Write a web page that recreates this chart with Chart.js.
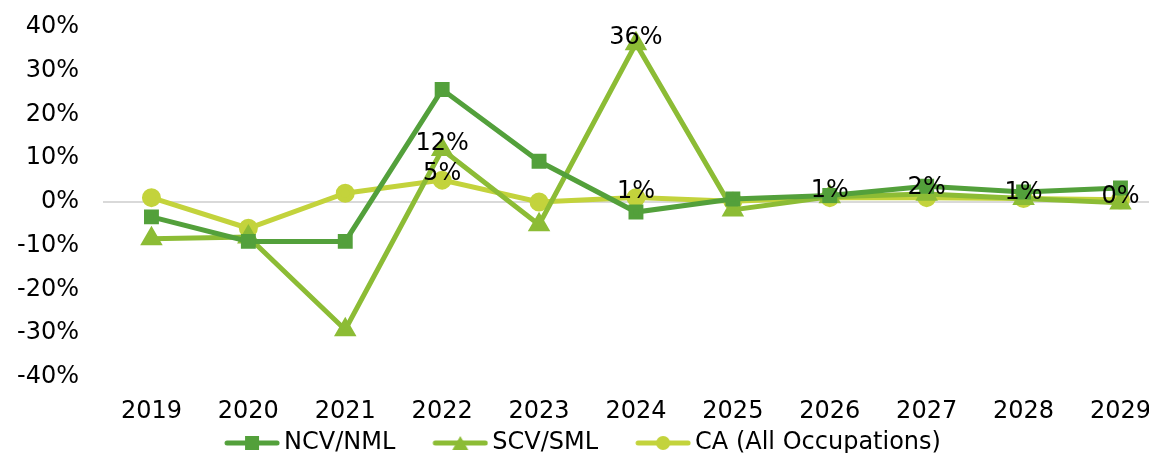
<!DOCTYPE html>
<html>
<head>
<meta charset="utf-8">
<script src="https://cdn.jsdelivr.net/npm/chart.js@4.4.1/dist/chart.umd.min.js"></script>
<style>
  html, body { margin: 0; padding: 0; background: #fff; overflow: hidden; }
  #wrap { width: 1171px; height: 453px; }
</style>
</head>
<body>
<div id="wrap"><canvas id="myChart"></canvas></div>
<script>
// Growth rates by year
const years = ["2019", "2020", "2021", "2022", "2023", "2024", "2025", "2026", "2027", "2028", "2029"];
const ncvNml = [-3.4, -9, -9, 25.7, 9.3, -2.3, 0.7, 1.5, 3.6, 2.3, 3.2];
const scvSml = [-8.4, -8, -29.2, 12, -5.2, 36.2, -1.8, 1.2, 1.8, 0.8, -0.2];
const caAll = [1, -6, 2, 5, 0, 1, 0.2, 1, 1, 0.8, 0.5];
const yTicks = [-40, -30, -20, -10, 0, 10, 20, 30, 40];

// which points get a value label
const scvLabelIdx = [3, 5, 7, 8, 9, 10];
const caLabelIdx = [3, 5];

const FONT = "'DejaVu Sans', sans-serif";
const colors = ["#53a03b", "#8cbc35", "#c3d33c"];

// legend icon: thick line with the marker in the middle; the blank part on the left is the gap between items
function legendIcon(color, shape) {
  const c = document.createElement("canvas");
  c.width = 97; c.height = 16;
  const g = c.getContext("2d");
  const x0 = 42, x1 = 96, mid = (x0 + x1) / 2;
  g.strokeStyle = color; g.fillStyle = color;
  g.lineWidth = 5; g.lineCap = "round";
  g.beginPath(); g.moveTo(x0 + 2, 8); g.lineTo(x1 - 2, 8); g.stroke();
  g.beginPath();
  if (shape === "rect") g.rect(mid - 7, 1, 14, 14);
  else if (shape === "triangle") { g.moveTo(mid, 1); g.lineTo(mid + 8, 15); g.lineTo(mid - 8, 15); g.closePath(); }
  else g.arc(mid, 8, 7, 0, Math.PI * 2);
  g.fill();
  return c;
}
const icons = [legendIcon(colors[0], "rect"), legendIcon(colors[1], "triangle"), legendIcon(colors[2], "circle")];

const valueLabels = {
  id: "valueLabels",
  afterDatasetsDraw(chart) {
    const g = chart.ctx;
    g.save();
    g.font = "24px " + FONT;
    g.fillStyle = "#000";
    g.textAlign = "center";
    g.textBaseline = "middle";
    [[1, scvLabelIdx], [2, caLabelIdx]].forEach(([di, idx]) => {
      const meta = chart.getDatasetMeta(di);
      const vals = chart.data.datasets[di].data;
      idx.forEach(i => {
        const p = meta.data[i];
        g.fillText(Math.round(vals[i]) + "%", p.x, p.y - 6);
      });
    });
    g.restore();
  }
};

// short legend row, nudged left so it is centred on the visible picture
const legendTweak = {
  id: "legendTweak",
  beforeInit(chart) {
    const fit = chart.legend.fit;
    chart.legend.fit = function () {
      fit.call(this);
      this.height = 26;
    };
  },
  afterLayout(chart) {
    chart.legend.left -= 16;
    chart.legend.right -= 16;
  }
};

const ctx = document.getElementById("myChart");

new Chart(ctx, {
  type: "line",
  data: {
    labels: years,
    datasets: [
      {
        label: "NCV/NML",
        data: ncvNml,
        borderColor: colors[0],
        backgroundColor: colors[0],
        borderWidth: 5,
        pointStyle: "rect",
        pointRadius: 7,
        pointHoverRadius: 7,
      },
      {
        label: "SCV/SML",
        data: scvSml,
        borderColor: colors[1],
        backgroundColor: colors[1],
        borderWidth: 5,
        pointStyle: "triangle",
        pointRadius: 8,
        pointHoverRadius: 8,
      },
      {
        label: "CA (All Occupations)",
        data: caAll,
        borderColor: colors[2],
        backgroundColor: colors[2],
        borderWidth: 5,
        pointStyle: "circle",
        pointRadius: 7,
        pointHoverRadius: 7,
      },
    ],
  },
  options: {
    responsive: true,
    maintainAspectRatio: false,
    animation: false,
    layout: { autoPadding: false, padding: { top: 27, left: -7, right: 0, bottom: 0 } },
    plugins: {
      tooltip: { enabled: false },
      legend: {
        position: "bottom",
        labels: {
          font: { family: FONT, size: 24 },
          color: "#000",
          usePointStyle: true,
          pointStyleWidth: 81,
          padding: 4,
          boxHeight: 16,
          generateLabels(chart) {
            return chart.data.datasets.map((ds, i) => ({
              text: ds.label,
              fillStyle: ds.backgroundColor,
              strokeStyle: ds.borderColor,
              pointStyle: icons[i],
              datasetIndex: i,
              hidden: false,
            }));
          },
        },
      },
    },
    scales: {
      x: {
        offset: true,
        afterFit(scale) { scale.height = 50; },
        grid: { display: false, drawTicks: false },
        border: { display: false },
        ticks: { font: { family: FONT, size: 24 }, color: "#000", padding: 20, maxRotation: 0 },
      },
      y: {
        min: -40,
        max: 40,
        afterBuildTicks(axis) { axis.ticks = yTicks.map(v => ({ value: v })); },
        afterFit(scale) { scale.paddingTop = 0; scale.paddingBottom = 0; },
        grid: {
          drawTicks: false,
          lineWidth: 2,
          color: c => (c.tick && c.tick.value === 0 ? "#d9d9d9" : "transparent"),
        },
        border: { display: false },
        ticks: {
          font: { family: FONT, size: 24 },
          color: "#000",
          padding: 24,
          callback: v => v + "%",
        },
      },
    },
  },
  plugins: [valueLabels, legendTweak],
});
</script>
</body>
</html>
